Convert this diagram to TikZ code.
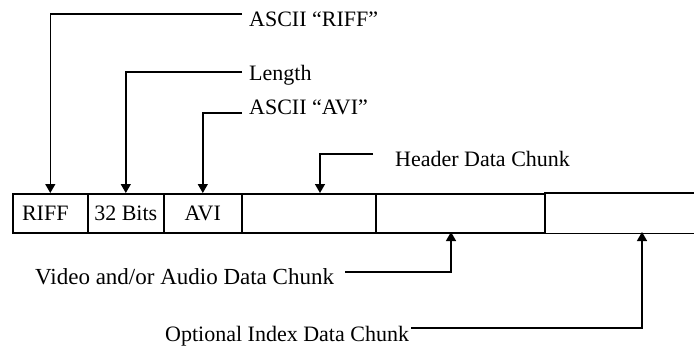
\documentclass[tikz,border=0pt]{standalone}
\usepackage{fontspec}
\setmainfont{Liberation Serif}
\usetikzlibrary{arrows.meta}
\begin{document}
\begin{tikzpicture}[x=1pt,y=-1pt,
  every node/.style={font=\fontsize{22}{26}\selectfont},
  cell/.style={draw, line width=1.6pt, minimum height=39pt, inner sep=0pt, anchor=north west},
  lbl/.style={anchor=base west, inner sep=0pt},
  conn/.style={line width=1.4pt, -{Triangle[width=10pt,length=9pt]}},
  edge/.style={line width=1.6pt}]
\useasboundingbox (0,0) rectangle (694,348);

% the chunk row of the AVI file
\node[cell, minimum width=75pt]  (riff) at (12,193)  {RIFF\hspace*{10pt}};
\node[cell, minimum width=76pt]  (bits) at (87,193)  {32 Bits};
\node[cell, minimum width=78pt]  (avi)  at (163,193) {AVI};
\node[cell, minimum width=134pt] (hdr)  at (241,193) {};
\node[cell, minimum width=169pt] (vid)  at (375,193) {};
\node[cell, draw=none, minimum width=152pt] (idx) at (544,193) {};
\draw[edge] (idx.north west) -- (idx.north east)
            (idx.south west) -- (idx.south east);

% labels
\node[lbl] (lRiff) at (249,27)  {ASCII “RIFF”};
\node[lbl] (lLen)  at (249,80)  {Length};
\node[lbl] (lAvi)  at (249,114) {ASCII “AVI”};
\node[lbl] (lHdr)  at (395,166) {Header Data Chunk};
\node[lbl, font=\fontsize{23}{27}\selectfont] (lVid) at (35,284) {Video and/or Audio Data Chunk};
\node[lbl] (lIdx)  at (165,341) {Optional Index Data Chunk};

% leader line ends and arrow tips
\coordinate (eRiff) at (242,14);
\coordinate (eLen)  at (242,72);
\coordinate (eAvi)  at (242,113);
\coordinate (eHdr)  at (373,154);
\coordinate (tHdr)  at (320,193);
\coordinate (eVid)  at (345,272);
\coordinate (tVid)  at (451,232);
\coordinate (eIdx)  at (411,328);
\coordinate (tIdx)  at (642,232);

\draw[conn] (eRiff) -| (riff.north);
\draw[conn] (eLen)  -| (bits.north);
\draw[conn] (eAvi)  -| (avi.north);
\draw[conn] (eHdr)  -| (tHdr);
\draw[conn] (eVid)  -| (tVid);
\draw[conn] (eIdx)  -| (tIdx);
\end{tikzpicture}
\end{document}
